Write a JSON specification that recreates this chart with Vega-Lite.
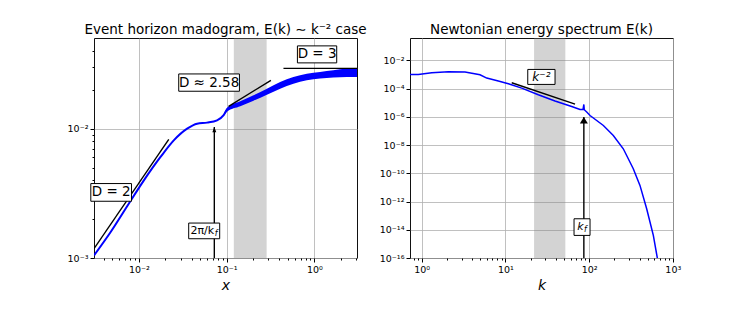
{
  "$schema": "https://vega.github.io/schema/vega-lite/v6.json",
  "padding": {"left": 66, "top": 22, "right": 5, "bottom": 5},
  "spacing": 53,
  "bounds": "flush",
  "config": {
    "font": "DejaVu Sans",
    "view": {"stroke": "#111111", "strokeWidth": 1},
    "title": {"font": "DejaVu Sans", "fontSize": 13.5, "fontWeight": "normal", "color": "black", "offset": 2},
    "axis": {
      "domain": false,
      "labelFont": "DejaVu Sans", "labelFontSize": 9.5, "labelColor": "black",
      "labelOverlap": false, "labelFlush": false, "labelBound": false, "labelPadding": 2,
      "tickColor": "black",
      "gridColor": "#b0b0b0", "gridWidth": 0.8,
      "titleFont": "DejaVu Sans", "titleFontSize": 14, "titleFontStyle": "italic", "titleFontWeight": "normal", "titleColor": "black", "titlePadding": 5
    }
  },
  "datasets": {
    "left_curve": [
      {"x": 0.00308, "y": 0.001047},
      {"x": 0.004768, "y": 0.001589},
      {"x": 0.007383, "y": 0.002524},
      {"x": 0.0114, "y": 0.003981},
      {"x": 0.01765, "y": 0.006039},
      {"x": 0.02498, "y": 0.008118},
      {"x": 0.03548, "y": 0.0100},
      {"x": 0.0461, "y": 0.01093},
      {"x": 0.05988, "y": 0.01113},
      {"x": 0.0778, "y": 0.01159},
      {"x": 0.0925, "y": 0.0127},
      {"x": 0.101, "y": 0.0140},
      {"x": 0.1431, "y": 0.01556},
      {"x": 0.2026, "y": 0.01726},
      {"x": 0.2877, "y": 0.01933},
      {"x": 0.4076, "y": 0.02164},
      {"x": 0.5772, "y": 0.02365},
      {"x": 0.8196, "y": 0.02508},
      {"x": 1.161, "y": 0.02585},
      {"x": 1.644, "y": 0.02647},
      {"x": 2.334, "y": 0.02704},
      {"x": 3.06, "y": 0.0272}
    ],
    "left_band": [
      {"x": 0.0925, "lo": 0.0125, "hi": 0.0129},
      {"x": 0.101, "lo": 0.0135, "hi": 0.0145},
      {"x": 0.1431, "lo": 0.01488, "hi": 0.01626},
      {"x": 0.2026, "lo": 0.01646, "hi": 0.01809},
      {"x": 0.2877, "lo": 0.01832, "hi": 0.02038},
      {"x": 0.4076, "lo": 0.02038, "hi": 0.02297},
      {"x": 0.5772, "lo": 0.02228, "hi": 0.02511},
      {"x": 0.8196, "lo": 0.02363, "hi": 0.02662},
      {"x": 1.161, "lo": 0.02436, "hi": 0.02745},
      {"x": 1.644, "lo": 0.0248, "hi": 0.02824},
      {"x": 2.334, "lo": 0.02511, "hi": 0.02911},
      {"x": 3.06, "lo": 0.02511, "hi": 0.02947}
    ],
    "left_fits": [
      {"x": 0.00308, "y": 0.00118, "x2": 0.0219, "y2": 0.00826},
      {"x": 0.1054, "y": 0.01488, "x2": 0.3195, "y2": 0.02363},
      {"x": 0.4443, "y": 0.02926, "x2": 3.06, "y2": 0.02926}
    ],
    "spectrum": [
      {"k": 0.724, "E": 0.00102},
      {"k": 0.91, "E": 0.00100},
      {"k": 1.317, "E": 0.00134},
      {"k": 2.079, "E": 0.00158},
      {"k": 3.29, "E": 0.00151},
      {"k": 4.97, "E": 0.00097},
      {"k": 5.98, "E": 0.000566},
      {"k": 8.22, "E": 0.000347},
      {"k": 10.83, "E": 0.000223},
      {"k": 15.66, "E": 0.00011},
      {"k": 24.7, "E": 3.7e-5},
      {"k": 39.1, "E": 1.33e-5},
      {"k": 61.9, "E": 5.5e-6},
      {"k": 77.8, "E": 3.37e-6},
      {"k": 84.5, "E": 3.3e-6},
      {"k": 86.5, "E": 7.6e-6},
      {"k": 87.5, "E": 3.2e-6},
      {"k": 93.6, "E": 2.2e-6},
      {"k": 102.5, "E": 1.26e-6},
      {"k": 148, "E": 2.47e-7},
      {"k": 194.5, "E": 4.8e-8},
      {"k": 256, "E": 5.5e-9},
      {"k": 337, "E": 2.1e-10},
      {"k": 405, "E": 1.4e-11},
      {"k": 487, "E": 3.1e-13},
      {"k": 585, "E": 4e-15},
      {"k": 653, "E": 1e-16},
      {"k": 700, "E": 1e-17}
    ]
  },
  "hconcat": [
    {
      "width": 263,
      "height": 220,
      "title": "Event horizon madogram, E(k) ∼ k⁻² case",
      "layer": [
        {
          "data": {"values": [{"x0": 0.1208, "x1": 0.2856}]},
          "mark": {"type": "rect", "color": "#808080", "opacity": 0.35},
          "encoding": {
            "x": {"field": "x0", "type": "quantitative", "scale": {"type": "log", "domain": [0.00308, 3.06], "nice": false},
              "title": "x",
              "axis": {
                "values": [0.004, 0.005, 0.006, 0.007, 0.008, 0.009, 0.01, 0.02, 0.03, 0.04, 0.05, 0.06, 0.07, 0.08, 0.09, 0.1, 0.2, 0.3, 0.4, 0.5, 0.6, 0.7, 0.8, 0.9, 1, 2, 3],
                "labelExpr": "abs(log(datum.value)/LN10 - round(log(datum.value)/LN10)) > 0.001 ? '' : '10' + (datum.value < 0.999 ? '⁻' : '') + (abs(round(log(datum.value)/LN10)) >= 10 ? substring('⁰¹²³⁴⁵⁶⁷⁸⁹', floor(abs(round(log(datum.value)/LN10))/10), floor(abs(round(log(datum.value)/LN10))/10) + 1) : '') + substring('⁰¹²³⁴⁵⁶⁷⁸⁹', abs(round(log(datum.value)/LN10)) % 10, abs(round(log(datum.value)/LN10)) % 10 + 1)",
                "tickSize": {"condition": {"test": "abs(log(datum.value)/LN10 - round(log(datum.value)/LN10)) < 0.001", "value": 4}, "value": 2},
                "gridOpacity": {"condition": {"test": "abs(log(datum.value)/LN10 - round(log(datum.value)/LN10)) < 0.001", "value": 1}, "value": 0}
              }
            },
            "x2": {"field": "x1"}
          }
        },
        {
          "data": {"name": "left_band"},
          "mark": {"type": "area", "color": "#0000ff", "clip": true, "interpolate": "monotone"},
          "encoding": {
            "x": {"field": "x", "type": "quantitative", "scale": {"type": "log", "domain": [0.00308, 3.06], "nice": false}},
            "y": {"field": "lo", "type": "quantitative", "scale": {"type": "log", "domain": [0.001, 0.0502], "nice": false},
              "title": null,
              "axis": {
                "values": [0.001, 0.002, 0.003, 0.004, 0.005, 0.006, 0.007, 0.008, 0.009, 0.01, 0.02, 0.03, 0.04],
                "labelExpr": "abs(log(datum.value)/LN10 - round(log(datum.value)/LN10)) > 0.001 ? '' : '10' + (datum.value < 0.999 ? '⁻' : '') + (abs(round(log(datum.value)/LN10)) >= 10 ? substring('⁰¹²³⁴⁵⁶⁷⁸⁹', floor(abs(round(log(datum.value)/LN10))/10), floor(abs(round(log(datum.value)/LN10))/10) + 1) : '') + substring('⁰¹²³⁴⁵⁶⁷⁸⁹', abs(round(log(datum.value)/LN10)) % 10, abs(round(log(datum.value)/LN10)) % 10 + 1)",
                "tickSize": {"condition": {"test": "abs(log(datum.value)/LN10 - round(log(datum.value)/LN10)) < 0.001", "value": 4}, "value": 2},
                "gridOpacity": {"condition": {"test": "abs(log(datum.value)/LN10 - round(log(datum.value)/LN10)) < 0.001", "value": 1}, "value": 0}
              }
            },
            "y2": {"field": "hi"}
          }
        },
        {
          "data": {"name": "left_curve"},
          "mark": {"type": "line", "color": "#0000ff", "strokeWidth": 2, "clip": true, "interpolate": "monotone"},
          "encoding": {
            "x": {"field": "x", "type": "quantitative", "scale": {"type": "log", "domain": [0.00308, 3.06], "nice": false}},
            "y": {"field": "y", "type": "quantitative", "scale": {"type": "log", "domain": [0.001, 0.0502], "nice": false}}
          }
        },
        {
          "data": {"name": "left_fits"},
          "mark": {"type": "rule", "color": "black", "strokeWidth": 1.4, "clip": true},
          "encoding": {
            "x": {"field": "x", "type": "quantitative", "scale": {"type": "log", "domain": [0.00308, 3.06], "nice": false}},
            "y": {"field": "y", "type": "quantitative", "scale": {"type": "log", "domain": [0.001, 0.0502], "nice": false}},
            "x2": {"field": "x2"},
            "y2": {"field": "y2"}
          }
        },
        {
          "data": {"values": [{"x": 0.0724, "y": 0.001, "y2": 0.0103}]},
          "mark": {"type": "rule", "color": "black", "strokeWidth": 1.4},
          "encoding": {
            "x": {"field": "x", "type": "quantitative", "scale": {"type": "log", "domain": [0.00308, 3.06], "nice": false}},
            "y": {"field": "y", "type": "quantitative", "scale": {"type": "log", "domain": [0.001, 0.0502], "nice": false}},
            "y2": {"field": "y2"}
          }
        },
        {
          "data": {"values": [{"x": 0.0724, "y": 0.0103}]},
          "mark": {"type": "point", "filled": true, "color": "black", "opacity": 1, "shape": "M0,0L0.45,1.2L-0.45,1.2Z", "size": 77},
          "encoding": {
            "x": {"field": "x", "type": "quantitative", "scale": {"type": "log", "domain": [0.00308, 3.06], "nice": false}},
            "y": {"field": "y", "type": "quantitative", "scale": {"type": "log", "domain": [0.001, 0.0502], "nice": false}}
          }
        },
        {
          "data": {"values": [{"x": 0.00483, "y": 0.003214}]},
          "mark": {"type": "point", "filled": false, "fill": "white", "fillOpacity": 1, "stroke": "black", "strokeWidth": 1, "opacity": 1, "shape": "M-1,-0.435H1V0.435H-1Z", "size": 1656},
          "encoding": {
            "x": {"field": "x", "type": "quantitative", "scale": {"type": "log", "domain": [0.00308, 3.06], "nice": false}},
            "y": {"field": "y", "type": "quantitative", "scale": {"type": "log", "domain": [0.001, 0.0502], "nice": false}}
          }
        },
        {
          "data": {"values": [{"x": 0.0631, "y": 0.0227}]},
          "mark": {"type": "point", "filled": false, "fill": "white", "fillOpacity": 1, "stroke": "black", "strokeWidth": 1, "opacity": 1, "shape": "M-1,-0.285H1V0.285H-1Z", "size": 3684},
          "encoding": {
            "x": {"field": "x", "type": "quantitative", "scale": {"type": "log", "domain": [0.00308, 3.06], "nice": false}},
            "y": {"field": "y", "type": "quantitative", "scale": {"type": "log", "domain": [0.001, 0.0502], "nice": false}}
          }
        },
        {
          "data": {"values": [{"x": 1.073, "y": 0.0375}]},
          "mark": {"type": "point", "filled": false, "fill": "white", "fillOpacity": 1, "stroke": "black", "strokeWidth": 1, "opacity": 1, "shape": "M-1,-0.4326H1V0.4326H-1Z", "size": 1544},
          "encoding": {
            "x": {"field": "x", "type": "quantitative", "scale": {"type": "log", "domain": [0.00308, 3.06], "nice": false}},
            "y": {"field": "y", "type": "quantitative", "scale": {"type": "log", "domain": [0.001, 0.0502], "nice": false}}
          }
        },
        {
          "data": {"values": [{"x": 0.0555, "y": 0.00162}]},
          "mark": {"type": "point", "filled": false, "fill": "white", "fillOpacity": 1, "stroke": "black", "strokeWidth": 1, "opacity": 1, "shape": "M-1,-0.506H1V0.506H-1Z", "size": 961},
          "encoding": {
            "x": {"field": "x", "type": "quantitative", "scale": {"type": "log", "domain": [0.00308, 3.06], "nice": false}},
            "y": {"field": "y", "type": "quantitative", "scale": {"type": "log", "domain": [0.001, 0.0502], "nice": false}}
          }
        },
        {
          "data": {"values": [
            {"x": 0.00483, "y": 0.003214, "label": "D = 2"},
            {"x": 0.0631, "y": 0.0227, "label": "D ≈ 2.58"},
            {"x": 1.073, "y": 0.0375, "label": "D = 3"}
          ]},
          "mark": {"type": "text", "font": "DejaVu Sans", "fontSize": 13.5, "color": "black", "align": "center", "baseline": "middle"},
          "encoding": {
            "x": {"field": "x", "type": "quantitative", "scale": {"type": "log", "domain": [0.00308, 3.06], "nice": false}},
            "y": {"field": "y", "type": "quantitative", "scale": {"type": "log", "domain": [0.001, 0.0502], "nice": false}},
            "text": {"field": "label"}
          }
        },
        {
          "data": {"values": [{"x": 0.0555, "y": 0.00162, "label": "2π/k"}]},
          "mark": {"type": "text", "font": "DejaVu Sans", "fontSize": 11, "color": "black", "align": "right", "baseline": "middle", "dx": 10},
          "encoding": {
            "x": {"field": "x", "type": "quantitative", "scale": {"type": "log", "domain": [0.00308, 3.06], "nice": false}},
            "y": {"field": "y", "type": "quantitative", "scale": {"type": "log", "domain": [0.001, 0.0502], "nice": false}},
            "text": {"field": "label"}
          }
        },
        {
          "data": {"values": [{"x": 0.0555, "y": 0.00162, "label": "f"}]},
          "mark": {"type": "text", "font": "DejaVu Sans", "fontSize": 8, "fontStyle": "italic", "color": "black", "align": "left", "baseline": "middle", "dx": 10.5, "dy": 3},
          "encoding": {
            "x": {"field": "x", "type": "quantitative", "scale": {"type": "log", "domain": [0.00308, 3.06], "nice": false}},
            "y": {"field": "y", "type": "quantitative", "scale": {"type": "log", "domain": [0.001, 0.0502], "nice": false}},
            "text": {"field": "label"}
          }
        }
      ]
    },
    {
      "width": 263,
      "height": 220,
      "title": "Newtonian energy spectrum E(k)",
      "layer": [
        {
          "data": {"values": [{"k0": 22, "k1": 52}]},
          "mark": {"type": "rect", "color": "#808080", "opacity": 0.35},
          "encoding": {
            "x": {"field": "k0", "type": "quantitative", "scale": {"type": "log", "domain": [0.724, 1005], "nice": false},
              "title": "k",
              "axis": {
                "values": [0.8, 0.9, 1, 2, 3, 4, 5, 6, 7, 8, 9, 10, 20, 30, 40, 50, 60, 70, 80, 90, 100, 200, 300, 400, 500, 600, 700, 800, 900, 1000],
                "labelExpr": "abs(log(datum.value)/LN10 - round(log(datum.value)/LN10)) > 0.001 ? '' : '10' + (datum.value < 0.999 ? '⁻' : '') + (abs(round(log(datum.value)/LN10)) >= 10 ? substring('⁰¹²³⁴⁵⁶⁷⁸⁹', floor(abs(round(log(datum.value)/LN10))/10), floor(abs(round(log(datum.value)/LN10))/10) + 1) : '') + substring('⁰¹²³⁴⁵⁶⁷⁸⁹', abs(round(log(datum.value)/LN10)) % 10, abs(round(log(datum.value)/LN10)) % 10 + 1)",
                "tickSize": {"condition": {"test": "abs(log(datum.value)/LN10 - round(log(datum.value)/LN10)) < 0.001", "value": 4}, "value": 2},
                "gridOpacity": {"condition": {"test": "abs(log(datum.value)/LN10 - round(log(datum.value)/LN10)) < 0.001", "value": 1}, "value": 0}
              }
            },
            "x2": {"field": "k1"}
          }
        },
        {
          "data": {"name": "spectrum"},
          "mark": {"type": "line", "color": "#0000ff", "strokeWidth": 1.5, "clip": true},
          "encoding": {
            "x": {"field": "k", "type": "quantitative", "scale": {"type": "log", "domain": [0.724, 1005], "nice": false}},
            "y": {"field": "E", "type": "quantitative", "scale": {"type": "log", "domain": [1e-16, 0.39], "nice": false},
              "title": null,
              "axis": {
                "values": [1e-16, 1e-14, 1e-12, 1e-10, 1e-8, 1e-6, 1e-4, 1e-2],
                "labelExpr": "'10' + (datum.value < 0.999 ? '⁻' : '') + (abs(round(log(datum.value)/LN10)) >= 10 ? substring('⁰¹²³⁴⁵⁶⁷⁸⁹', floor(abs(round(log(datum.value)/LN10))/10), floor(abs(round(log(datum.value)/LN10))/10) + 1) : '') + substring('⁰¹²³⁴⁵⁶⁷⁸⁹', abs(round(log(datum.value)/LN10)) % 10, abs(round(log(datum.value)/LN10)) % 10 + 1)",
                "tickSize": 4
              }
            }
          }
        },
        {
          "data": {"values": [{"k": 11.89, "E": 0.000263, "k2": 67.9, "E2": 8.13e-6}]},
          "mark": {"type": "rule", "color": "black", "strokeWidth": 1.4},
          "encoding": {
            "x": {"field": "k", "type": "quantitative", "scale": {"type": "log", "domain": [0.724, 1005], "nice": false}},
            "y": {"field": "E", "type": "quantitative", "scale": {"type": "log", "domain": [1e-16, 0.39], "nice": false}},
            "x2": {"field": "k2"},
            "y2": {"field": "E2"}
          }
        },
        {
          "data": {"values": [{"k": 86.5, "E": 1e-16, "E2": 1e-6}]},
          "mark": {"type": "rule", "color": "black", "strokeWidth": 1.4},
          "encoding": {
            "x": {"field": "k", "type": "quantitative", "scale": {"type": "log", "domain": [0.724, 1005], "nice": false}},
            "y": {"field": "E", "type": "quantitative", "scale": {"type": "log", "domain": [1e-16, 0.39], "nice": false}},
            "y2": {"field": "E2"}
          }
        },
        {
          "data": {"values": [{"k": 86.5, "E": 1e-6}]},
          "mark": {"type": "point", "filled": true, "color": "black", "opacity": 1, "shape": "M0,0L0.5,0.84L-0.5,0.84Z", "size": 256},
          "encoding": {
            "x": {"field": "k", "type": "quantitative", "scale": {"type": "log", "domain": [0.724, 1005], "nice": false}},
            "y": {"field": "E", "type": "quantitative", "scale": {"type": "log", "domain": [1e-16, 0.39], "nice": false}}
          }
        },
        {
          "data": {"values": [{"k": 26.9, "E": 0.00068}]},
          "mark": {"type": "point", "filled": false, "fill": "white", "fillOpacity": 1, "stroke": "black", "strokeWidth": 1, "opacity": 1, "shape": "M-1,-0.549H1V0.549H-1Z", "size": 745},
          "encoding": {
            "x": {"field": "k", "type": "quantitative", "scale": {"type": "log", "domain": [0.724, 1005], "nice": false}},
            "y": {"field": "E", "type": "quantitative", "scale": {"type": "log", "domain": [1e-16, 0.39], "nice": false}}
          }
        },
        {
          "data": {"values": [{"k": 82.3, "E": 1.55e-14}]},
          "mark": {"type": "point", "filled": false, "fill": "white", "fillOpacity": 1, "stroke": "black", "strokeWidth": 1, "opacity": 1, "shape": "M-1,-1.04H1V1.04H-1Z", "size": 256},
          "encoding": {
            "x": {"field": "k", "type": "quantitative", "scale": {"type": "log", "domain": [0.724, 1005], "nice": false}},
            "y": {"field": "E", "type": "quantitative", "scale": {"type": "log", "domain": [1e-16, 0.39], "nice": false}}
          }
        },
        {
          "data": {"values": [{"k": 26.9, "E": 0.00068, "label": "k⁻²"}]},
          "mark": {"type": "text", "font": "DejaVu Sans", "fontSize": 12, "fontStyle": "italic", "color": "black", "align": "center", "baseline": "middle"},
          "encoding": {
            "x": {"field": "k", "type": "quantitative", "scale": {"type": "log", "domain": [0.724, 1005], "nice": false}},
            "y": {"field": "E", "type": "quantitative", "scale": {"type": "log", "domain": [1e-16, 0.39], "nice": false}},
            "text": {"field": "label"}
          }
        },
        {
          "data": {"values": [{"k": 82.3, "E": 1.55e-14, "label": "k"}]},
          "mark": {"type": "text", "font": "DejaVu Sans", "fontSize": 11, "fontStyle": "italic", "color": "black", "align": "right", "baseline": "middle", "dx": 1.5},
          "encoding": {
            "x": {"field": "k", "type": "quantitative", "scale": {"type": "log", "domain": [0.724, 1005], "nice": false}},
            "y": {"field": "E", "type": "quantitative", "scale": {"type": "log", "domain": [1e-16, 0.39], "nice": false}},
            "text": {"field": "label"}
          }
        },
        {
          "data": {"values": [{"k": 82.3, "E": 1.55e-14, "label": "f"}]},
          "mark": {"type": "text", "font": "DejaVu Sans", "fontSize": 8, "fontStyle": "italic", "color": "black", "align": "left", "baseline": "middle", "dx": 2, "dy": 3},
          "encoding": {
            "x": {"field": "k", "type": "quantitative", "scale": {"type": "log", "domain": [0.724, 1005], "nice": false}},
            "y": {"field": "E", "type": "quantitative", "scale": {"type": "log", "domain": [1e-16, 0.39], "nice": false}},
            "text": {"field": "label"}
          }
        }
      ]
    }
  ]
}
